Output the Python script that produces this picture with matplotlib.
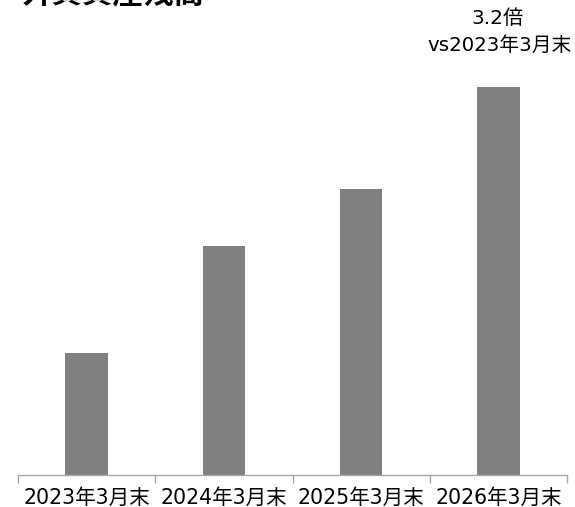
import matplotlib
matplotlib.use("Agg")
import matplotlib.pyplot as plt

plt.rcParams['font.family'] = ['DejaVu Sans', 'Noto Sans CJK JP']

categories = ["2023年3月末", "2024年3月末", "2025年3月末", "2026年3月末"]
values = [100, 188, 234, 318]
title = "外貨資産残高"
note_main = "3.2倍"
note_sub = "vs2023年3月末"

W, H = 575, 507
fig = plt.figure(figsize=(W / 100, H / 100), dpi=100)
ax = fig.add_axes([18 / W, (H - 475) / H, (567 - 18) / W, 415 / H])

x = range(len(categories))
ax.bar(x, values, width=0.31, color="#808080", zorder=2)

ax.set_xlim(-0.5, len(categories) - 0.5)
ax.set_ylim(0, values[-1] * 415 / 388)

for s in ["top", "right", "left"]:
    ax.spines[s].set_visible(False)
ax.spines["bottom"].set_color("#a6a6a6")
ax.spines["bottom"].set_linewidth(1.0)
ax.set_yticks([])

ax.set_xticks([i - 0.5 for i in range(len(categories) + 1)], minor=False)
ax.set_xticklabels([])
ax.tick_params(axis="x", which="major", direction="out", length=6, color="#a6a6a6", width=1.0)
ax.set_xticks(list(x), minor=True)
ax.set_xticklabels(categories, minor=True, fontsize=14.8, color="#000000")
ax.tick_params(axis="x", which="minor", length=0, pad=9)

fig.text(22 / W, 1 - 2 / H, title, fontsize=22, fontweight="bold",
         ha="left", va="baseline", family=['Noto Sans CJK JP'])
fig.text(497.5 / W, 1 - 18 / H, note_main, fontsize=14.5, ha="center", va="center")
fig.text(499.5 / W, 1 - 45 / H, note_sub, fontsize=14.2, ha="center", va="center")

fig.savefig("out.png", dpi=100)
